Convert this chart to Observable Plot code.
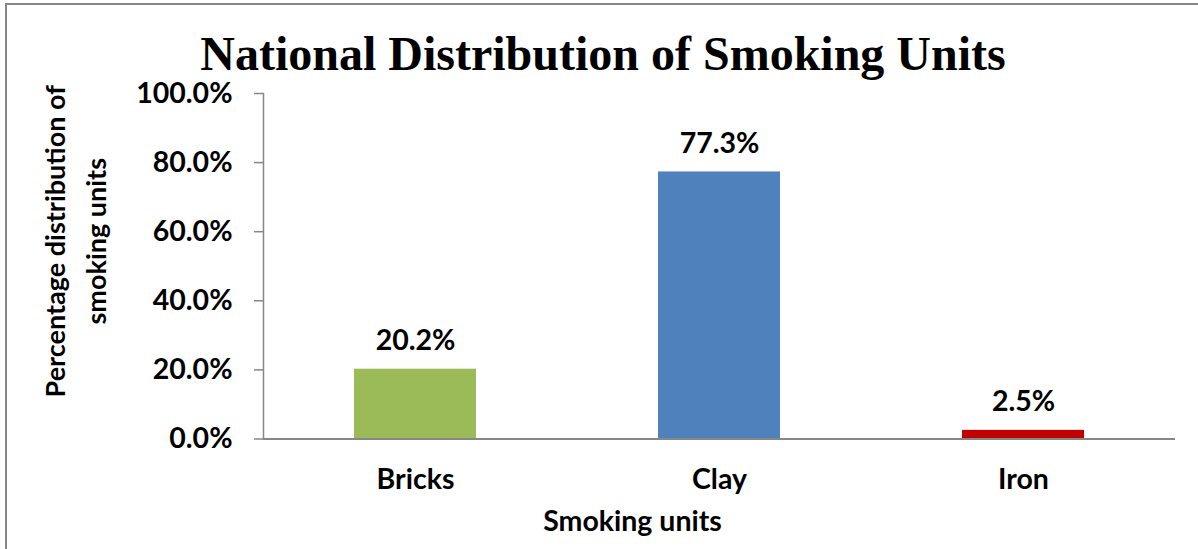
<!DOCTYPE html>
<html>
<head>
<meta charset="utf-8">
<script src="https://cdn.jsdelivr.net/npm/d3@7"></script>
<script src="https://cdn.jsdelivr.net/npm/@observablehq/plot@0.6"></script>
<style>
  html, body { margin: 0; padding: 0; background: #fff; }
  #wrap { position: relative; width: 1198px; height: 549px; overflow: hidden; background: #fff; }
  #frame { position: absolute; left: 5px; top: 3px; width: 1300px; height: 700px; border: 2px solid #878787; box-sizing: border-box; }
  #title { position: absolute; left: 0; width: 1206px; top: 24px; text-align: center;
           font-family: "Liberation Serif", "Times New Roman", serif; font-weight: bold; font-size: 48px; line-height: 60px; color: #000; }
  #chart { position: absolute; left: 0; top: 0; }
</style>
</head>
<body>
<div id="wrap">
  <div id="frame"></div>
  <div id="chart"></div>
  <div id="title">National Distribution of Smoking Units</div>
</div>
<script>
const categories = ["Bricks", "Clay", "Iron"];
const values = [20.2, 77.3, 2.5];
const colors = ["#9BBB59", "#4F81BD", "#C00000"];
const yTicks = [0, 20, 40, 60, 80, 100];
const xTitle = "Smoking units";
const yTitle = "Percentage distribution of\nsmoking units";

const data = categories.map((c, i) => ({category: c, value: values[i], color: colors[i]}));
const font = "Lato, 'Open Sans', sans-serif";
const fs = 28.5;

const chart = Plot.plot({
  width: 1198,
  height: 549,
  marginLeft: 263,
  marginRight: 23,
  marginTop: 93,
  marginBottom: 110.5,
  style: {fontFamily: font, fontWeight: "bold", color: "#000", background: "transparent"},
  x: {type: "band", domain: categories, paddingInner: 0.6, paddingOuter: 0.3, label: null},
  y: {domain: [0, 100], label: null},
  marks: [
    Plot.barY(data, {x: "category", y: "value", fill: "color"}),
    Plot.ruleY([0], {stroke: "#878787", strokeWidth: 2}),
    Plot.frame({anchor: "left", stroke: "#878787", strokeWidth: 1.5}),
    Plot.axisY({ticks: yTicks, tickFormat: d => d.toFixed(1) + "%", tickSize: 9, tickPadding: 22,
                stroke: "#878787", strokeWidth: 1.5, fontSize: fs, fontWeight: "bold", fontFamily: font, label: null}),
    Plot.axisX({tickSize: 0, tickPadding: 30, fontSize: fs, fontWeight: "bold", fontFamily: font, label: null}),
    Plot.text(data, {x: "category", y: "value", text: d => d.value.toFixed(1) + "%", dy: -28,
                     fontSize: fs, fontWeight: "bold", fontFamily: font, fill: "#000"}),
    Plot.text([xTitle], {frameAnchor: "bottom", lineAnchor: "middle", dx: -87, dy: 82.5, fontSize: fs, fontWeight: "bold", fontFamily: font, fill: "#000"}),
    Plot.text([yTitle], {frameAnchor: "left", textAnchor: "middle", rotate: -90, dx: -191, dy: -25, lineHeight: 1.5,
                         fontSize: 27, fontWeight: "bold", fontFamily: font, fill: "#000"})
  ]
});
document.getElementById("chart").appendChild(chart);
</script>
</body>
</html>
